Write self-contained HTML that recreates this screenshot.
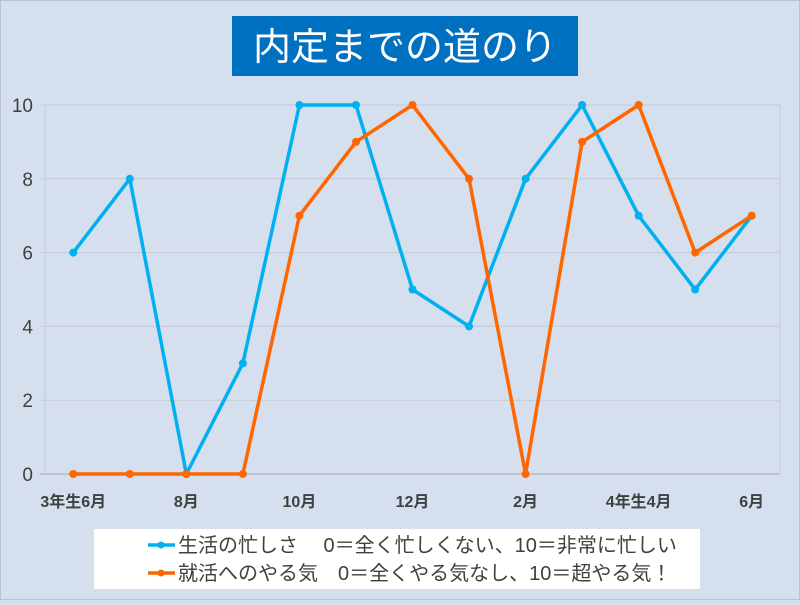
<!DOCTYPE html>
<html><head><meta charset="utf-8"><style>
body{margin:0;width:800px;height:600px;overflow:hidden;background:#d6dfed;font-family:"Liberation Sans","Noto Sans CJK JP",sans-serif;}
</style></head><body>
<svg width="800" height="600" xmlns="http://www.w3.org/2000/svg" id="svg">
<rect x="0.5" y="0.5" width="799" height="599" fill="#d6dfed" stroke="#b8c2d0"/>
<rect x="232" y="16" width="346" height="60" fill="#0070c0"/>
<text x="405" y="60" text-anchor="middle" font-size="38" fill="#fff" font-family="Liberation Sans,Noto Sans CJK JP,sans-serif">内定までの道のり</text>
<g id="grid"></g><g id="series"></g>
<rect x="94" y="529" width="606" height="60" fill="#fff"/>
<g>
<line x1="148" y1="545" x2="175" y2="545" stroke="#00b0f0" stroke-width="3.5"/><circle cx="161" cy="545" r="3.5" fill="#00b0f0"/>
<text x="178" y="552" font-size="20" fill="#404040">生活の忙しさ　 0＝全く忙しくない、10＝非常に忙しい</text></g>
<g>
<line x1="148" y1="573" x2="175" y2="573" stroke="#ff6600" stroke-width="3.5"/><circle cx="161" cy="573" r="3.5" fill="#ff6600"/>
<text x="178" y="580" font-size="20" fill="#404040">就活へのやる気　0＝全くやる気なし、10＝超やる気！</text></g>
</svg>
<script>
const categories=["3年生6月","7月","8月","9月","10月","11月","12月","1月","2月","3月","4年生4月","5月","6月"];
const shownLabels=["3年生6月","","8月","","10月","","12月","","2月","","4年生4月","","6月"];
const busy=[6,8,0,3,10,10,5,4,8,10,7,5,7];
const motivation=[0,0,0,0,7,9,10,8,0,9,10,6,7];
const yTicks=[0,2,4,6,8,10];
const NS="http://www.w3.org/2000/svg";
const L=45,R=780,T=105,B=474;
const xs=i=>L+(R-L)/categories.length*(i+0.5);
const ys=v=>B-(B-T)*v/10;
function mk(t,a,p){const e=document.createElementNS(NS,t);for(const k in a)e.setAttribute(k,a[k]);p.appendChild(e);return e;}
const g=document.getElementById('grid');
yTicks.forEach(v=>{
 const l=mk('line',{x1:L-5,x2:R,y1:ys(v),y2:ys(v),stroke:v===0?'#a6a6a6':'#c3cbd6','stroke-width':1},g);
 
 
 const t=mk('text',{x:L-12,y:ys(v)+7,'text-anchor':'end','font-size':19,fill:'#404040'},g);
 t.textContent=v;
 
 
});
mk('line',{x1:L,x2:L,y1:T,y2:B,stroke:'#c3cbd6'},g);
mk('line',{x1:R,x2:R,y1:T,y2:B,stroke:'#c3cbd6'},g);
shownLabels.forEach((s,i)=>{if(!s)return;
 const t=mk('text',{x:xs(i),y:507,'text-anchor':'middle','font-size':16,'font-weight':'bold',fill:'#404040'},g);
 t.textContent=s;
 
 
});
const sg=document.getElementById('series');
[[busy,'#00b0f0','busy'],[motivation,'#ff6600','motivation']].forEach(([d,c,n])=>{
 const p=mk('polyline',{points:d.map((v,i)=>xs(i)+','+ys(v)).join(' '),fill:'none',stroke:c,'stroke-width':3.5,'stroke-linejoin':'round'},sg);
 
 
 d.forEach((v,i)=>{const m=mk('circle',{cx:xs(i),cy:ys(v),r:4,fill:c},sg);
  
  });
});
</script>
</body></html>
